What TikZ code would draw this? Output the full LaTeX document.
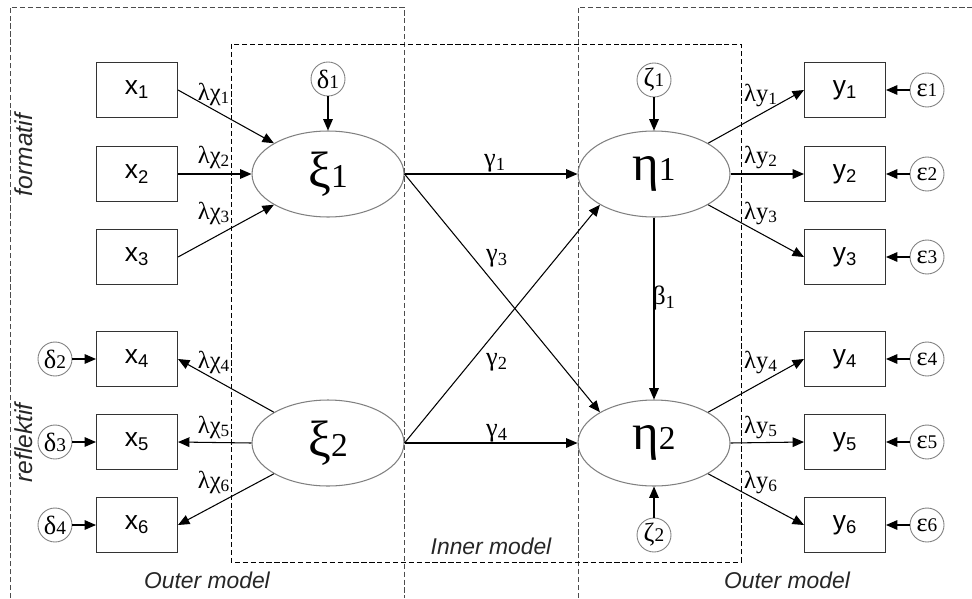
\documentclass[tikz,border=0pt]{standalone}
\usepackage{fontspec}
\setmainfont{Liberation Serif}
\setsansfont{Liberation Sans}
\usetikzlibrary{arrows.meta,shapes.geometric}

\newcommand{\latname}[2]{{\fontsize{29}{30}\selectfont #1}{\fontsize{19}{20}\selectfont #2}}
\newcommand{\errname}[2]{{\fontsize{15}{15}\selectfont #1}{\fontsize{11}{11}\selectfont #2}}

\begin{document}
\begin{tikzpicture}[
  x=0.02cm, y=-0.02cm,
  obs/.style={draw=black!80, line width=0.6pt, minimum width=1.62cm,
    minimum height=1.1cm, inner sep=0pt, font=\sffamily\fontsize{15}{17}\selectfont},
  lat/.style={draw=black!50, ellipse, line width=0.6pt, minimum width=3.04cm,
    minimum height=1.72cm, inner sep=0pt},
  err/.style={draw=black!50, circle, line width=0.5pt, minimum size=0.68cm, inner sep=0pt},
  arr/.style={-{Triangle[length=6.5pt,width=5.5pt]}, line width=0.6pt},
  lab/.style={font=\fontsize{14}{16}\selectfont, inner sep=0pt},
  path/.style={font=\fontsize{15}{17}\selectfont, inner sep=0pt},
  ttl/.style={font=\sffamily\itshape\fontsize{13}{15}\selectfont, text=black!85},
  frame/.style={dash pattern=on 3pt off 1.5pt, line width=0.5pt}
]
\useasboundingbox (0,0) rectangle (972,598);

% ── frames ───────────────────────────────────────────────────────────────
\draw[frame, black!70] (10,598) -- (10,7) -- (404,7) -- (404,598);
\draw[frame, black!70] (578,598) -- (578,7) -- (972,7);
\draw[frame] (231,44) rectangle (741,562);

% ── latent variables ─────────────────────────────────────────────────────
\node[lat] (xi1)  at (328,174) {\latname{ξ}{1}};
\node[lat] (xi2)  at (328,443) {\latname{ξ}{2}};
\node[lat] (eta1) at (654,174) {\latname{η}{1}};
\node[lat] (eta2) at (654,443) {\latname{η}{2}};

% ── indicators ───────────────────────────────────────────────────────────
\node[obs] (x1) at (137,90)  {x\textsubscript{1}};
\node[obs] (x2) at (137,174) {x\textsubscript{2}};
\node[obs] (x3) at (137,257) {x\textsubscript{3}};
\node[obs] (x4) at (137,359) {x\textsubscript{4}};
\node[obs] (x5) at (137,442) {x\textsubscript{5}};
\node[obs] (x6) at (137,525) {x\textsubscript{6}};
\node[obs] (y1) at (845,90)  {y\textsubscript{1}};
\node[obs] (y2) at (845,174) {y\textsubscript{2}};
\node[obs] (y3) at (845,257) {y\textsubscript{3}};
\node[obs] (y4) at (845,359) {y\textsubscript{4}};
\node[obs] (y5) at (845,442) {y\textsubscript{5}};
\node[obs] (y6) at (845,525) {y\textsubscript{6}};

% ── error terms ──────────────────────────────────────────────────────────
\node[err] (d1) at (328,79)  {\errname{δ}{1}};
\node[err] (d2) at (55,359)  {\errname{δ}{2}};
\node[err] (d3) at (55,442)  {\errname{δ}{3}};
\node[err] (d4) at (55,525)  {\errname{δ}{4}};
\node[err] (z1) at (654,80)  {\errname{ζ}{1}};
\node[err] (z2) at (654,535) {\errname{ζ}{2}};
\node[err] (e1) at (927,90)  {\errname{ε}{1}};
\node[err] (e2) at (927,174) {\errname{ε}{2}};
\node[err] (e3) at (927,257) {\errname{ε}{3}};
\node[err] (e4) at (927,359) {\errname{ε}{4}};
\node[err] (e5) at (927,442) {\errname{ε}{5}};
\node[err] (e6) at (927,525) {\errname{ε}{6}};

% ── outer model, formative and reflective ────────────────────────────────
\draw[arr] (x1.east) -- (xi1.north west);
\draw[arr] (x2.east) -- (xi1.west);
\draw[arr] (x3.east) -- (xi1.south west);
\draw[arr] (xi2.north west) -- (x4.east);
\draw[arr] (xi2.west) -- (x5.east);
\draw[arr] (xi2.south west) -- (x6.east);
\foreach \i in {1,...,6} {\draw[arr] (e\i) -- (y\i);}
\foreach \i/\j in {2/4,3/5,4/6} {\draw[arr] (d\i) -- (x\j);}
\draw[arr] (eta1.north east) -- (y1.west);
\draw[arr] (eta1.east) -- (y2.west);
\draw[arr] (eta1.south east) -- (y3.west);
\draw[arr] (eta2.north east) -- (y4.west);
\draw[arr] (eta2.east) -- (y5.west);
\draw[arr] (eta2.south east) -- (y6.west);

% ── inner model ──────────────────────────────────────────────────────────
\draw[arr] (d1) -- (xi1);
\draw[arr] (z1) -- (eta1);
\draw[arr] (z2) -- (eta2);
\draw[arr] (xi1) -- (eta1);
\draw[arr] (xi2) -- (eta2);
\draw[arr] (xi1.east) -- (eta2.north west);
\draw[arr] (xi2.east) -- (eta1.south west);
\draw[arr] (eta1) -- (eta2);

% ── loadings and paths ───────────────────────────────────────────────────
\node[lab] (lx1) at (214,94)  {λχ\textsubscript{1}};
\node[lab] (lx2) at (214,157) {λχ\textsubscript{2}};
\node[lab] (lx3) at (214,213) {λχ\textsubscript{3}};
\node[lab] (lx4) at (214,362) {λχ\textsubscript{4}};
\node[lab] (lx5) at (214,427) {λχ\textsubscript{5}};
\node[lab] (lx6) at (214,482) {λχ\textsubscript{6}};
\node[lab] (ly1) at (761,95)  {λy\textsubscript{1}};
\node[lab] (ly2) at (761,157) {λy\textsubscript{2}};
\node[lab] (ly3) at (761,213) {λy\textsubscript{3}};
\node[lab] (ly4) at (761,362) {λy\textsubscript{4}};
\node[lab] (ly5) at (761,427) {λy\textsubscript{5}};
\node[lab] (ly6) at (761,482) {λy\textsubscript{6}};
\node[path] (g1) at (495,163) {γ\textsubscript{1}};
\node[path] (g3) at (497,258) {γ\textsubscript{3}};
\node[path] (g2) at (497,362) {γ\textsubscript{2}};
\node[path] (g4) at (497,433) {γ\textsubscript{4}};
\node[path] (b1) at (664,298) {β\textsubscript{1}};

% ── captions ─────────────────────────────────────────────────────────────
\node[ttl, rotate=90, font=\sffamily\itshape\fontsize{14}{16}\selectfont] (form) at (24,155) {formatif};
\node[ttl, rotate=90, font=\sffamily\itshape\fontsize{14}{16}\selectfont] (refl) at (24,443) {reflektif};
\node[ttl] (inner) at (491,546) {Inner model};
\node[ttl] (outL)  at (207,580) {Outer model};
\node[ttl] (outR)  at (787,580) {Outer model};

\end{tikzpicture}
\end{document}
